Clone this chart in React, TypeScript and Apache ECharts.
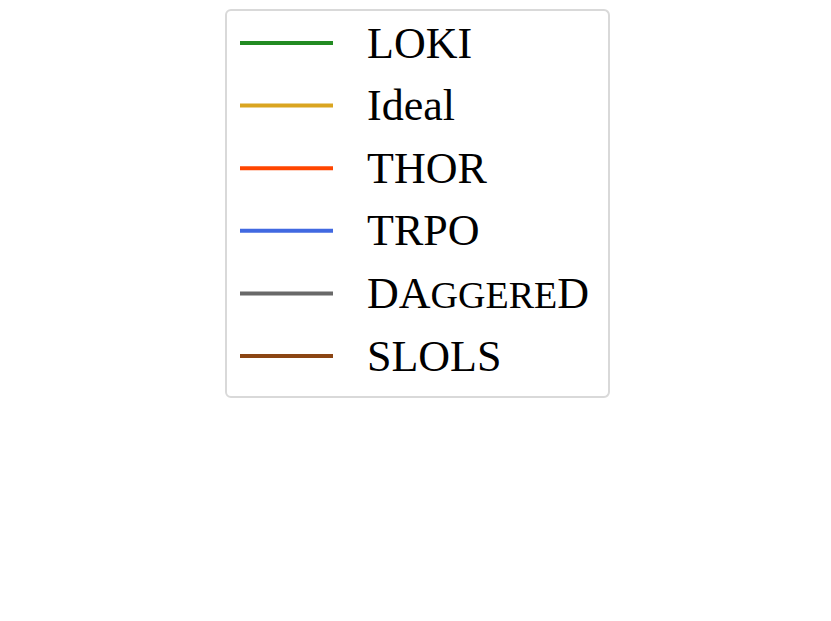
import React, { useEffect, useRef } from "react";
import * as echarts from "echarts";

const seriesNames = ["LOKI", "Ideal", "THOR", "TRPO", "DAGGERED", "SLOLS"];
const seriesColors = ["#228B22", "#DAA520", "#FF4500", "#4169E1", "#696969", "#8B4513"];

export default function App() {
  const ref = useRef<HTMLDivElement>(null);
  useEffect(() => {
    if (!ref.current) return;
    const chart = echarts.init(ref.current, undefined, { renderer: "svg" });
    chart.setOption({
      animation: false,
      backgroundColor: "#ffffff",
      grid: { show: false, left: 0, right: 0, top: 0, bottom: 0 },
      xAxis: { type: "value", show: false },
      yAxis: { type: "value", show: false },
      legend: {
        orient: "vertical",
        left: 226,
        top: 10,
        icon: "rect",
        itemWidth: 93,
        itemHeight: 4,
        itemGap: 12.6,
        padding: [8, 20, 16, 14],
        backgroundColor: "#ffffff",
        borderColor: "#d9d9d9",
        borderWidth: 2,
        borderRadius: 5,
        selectedMode: false,
        data: seriesNames,
        formatter: (name: string) =>
          name === "DAGGERED" ? "{big|DA}{sc|GGERE}{big|D}" : name,
        textStyle: {
          fontFamily: "Liberation Serif",
          fontSize: 44,
          color: "#000000",
          lineHeight: 50,
          padding: [0, 0, 0, 29],
          rich: {
            big: {
              fontFamily: "Liberation Serif",
              fontSize: 44,
              color: "#000000",
              verticalAlign: "middle",
            },
            sc: {
              fontFamily: "Liberation Serif",
              fontSize: 38,
              color: "#000000",
              verticalAlign: "middle",
              padding: [4, 0, 0, 0],
            },
          },
        },
      },
      series: seriesNames.map((n, i) => ({
        name: n,
        type: "line",
        data: [],
        color: seriesColors[i],
        showSymbol: false,
      })),
    });
    return () => chart.dispose();
  }, []);
  return (
    <div
      ref={ref}
      style={{ position: "fixed", left: 0, top: 0, width: 831, height: 621 }}
    />
  );
}
